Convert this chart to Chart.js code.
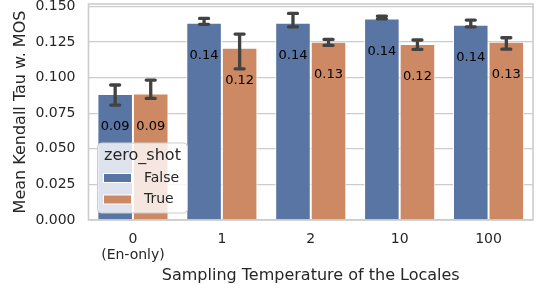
<!DOCTYPE html>
<html lang="en">
<head>
    <meta charset="UTF-8">
    <title>Mean Kendall Tau w. MOS</title>
    <script src="https://cdn.jsdelivr.net/npm/chart.js"></script>
    <style>
        html, body {
            margin: 0;
            padding: 0;
            background: white;
        }
        #wrap {
            width: 537px;
            height: 288px;
        }
    </style>
</head>
<body>
    <div id="wrap"><canvas id="chart"></canvas></div>

    <script>
        // data
        const categories = [['0', '(En-only)'], '1', '2', '10', '100'];
        const seriesNames = ['False', 'True'];
        const falseMeans = [0.0885, 0.1385, 0.1385, 0.1416, 0.1371];
        const trueMeans = [0.0889, 0.1210, 0.1252, 0.1236, 0.1251];
        const falseLow = [0.0807, 0.1374, 0.1357, 0.1413, 0.1357];
        const falseHigh = [0.0948, 0.1416, 0.1451, 0.1432, 0.1404];
        const trueLow = [0.0854, 0.1062, 0.1226, 0.1198, 0.1200];
        const trueHigh = [0.0983, 0.1306, 0.1268, 0.1264, 0.1280];
        const yTicks = [0, 0.025, 0.05, 0.075, 0.1, 0.125, 0.15];

        const FONT = "'DejaVu Sans', sans-serif";
        const TEXT = '#262626';
        const colors = ['#5975a4', '#cc8963'];
        const errLows = [falseLow, trueLow];
        const errHighs = [falseHigh, trueHigh];

        // frame around the plot area
        const framePlugin = {
            id: 'frame',
            afterDraw(chart) {
                const { ctx, chartArea: a } = chart;
                ctx.save();
                ctx.strokeStyle = '#cccccc';
                ctx.lineWidth = 1.6;
                ctx.strokeRect(a.left, a.top, a.right - a.left, a.bottom - a.top);
                ctx.restore();
            }
        };

        // error bars + value labels inside the bars
        const errorPlugin = {
            id: 'errors',
            afterDatasetsDraw(chart) {
                const ctx = chart.ctx;
                const y = chart.scales.y;
                ctx.save();
                chart.data.datasets.forEach((ds, di) => {
                    const meta = chart.getDatasetMeta(di);
                    meta.data.forEach((bar, i) => {
                        // label
                        ctx.fillStyle = '#000';
                        ctx.font = '13px ' + FONT;
                        ctx.textAlign = 'center';
                        ctx.textBaseline = 'middle';
                        ctx.fillText(ds.data[i].toFixed(2), bar.x, bar.y + 33);
                        // error bar
                        const lo = y.getPixelForValue(errLows[di][i]);
                        const hi = y.getPixelForValue(errHighs[di][i]);
                        ctx.strokeStyle = '#424242';
                        ctx.lineWidth = 3.3;
                        ctx.lineCap = 'round';
                        ctx.beginPath();
                        ctx.moveTo(bar.x, lo);
                        ctx.lineTo(bar.x, hi);
                        ctx.moveTo(bar.x - 4.5, lo);
                        ctx.lineTo(bar.x + 4.5, lo);
                        ctx.moveTo(bar.x - 4.5, hi);
                        ctx.lineTo(bar.x + 4.5, hi);
                        ctx.stroke();
                    });
                });
                ctx.restore();
            }
        };

        // legend inside the axes, like seaborn
        const legendPlugin = {
            id: 'innerLegend',
            afterDraw(chart) {
                const { ctx, chartArea: a } = chart;
                const x0 = a.left + 9, y0 = 143, w = 90, h = 70;
                ctx.save();
                ctx.beginPath();
                ctx.roundRect(x0, y0, w, h, 4);
                ctx.fillStyle = 'rgba(255,255,255,0.8)';
                ctx.fill();
                ctx.strokeStyle = '#cccccc';
                ctx.lineWidth = 1;
                ctx.stroke();

                ctx.fillStyle = TEXT;
                ctx.font = '16px ' + FONT;
                ctx.textAlign = 'center';
                ctx.textBaseline = 'middle';
                ctx.fillText('zero_shot', x0 + w / 2, y0 + 12.5);

                ctx.font = '14px ' + FONT;
                ctx.textAlign = 'left';
                seriesNames.forEach((name, i) => {
                    const cy = y0 + 35 + i * 21.5;
                    ctx.fillStyle = colors[i];
                    ctx.fillRect(x0 + 6, cy - 4.5, 28, 9);
                    ctx.strokeStyle = '#ffffff';
                    ctx.strokeRect(x0 + 6, cy - 4.5, 28, 9);
                    ctx.fillStyle = TEXT;
                    ctx.fillText(name, x0 + 46.5, cy);
                });
                ctx.restore();
            }
        };

        new Chart(document.getElementById('chart'), {
            type: 'bar',
            data: {
                labels: categories,
                datasets: [
                    { label: seriesNames[0], data: falseMeans, backgroundColor: colors[0] },
                    { label: seriesNames[1], data: trueMeans, backgroundColor: colors[1] }
                ]
            },
            options: {
                responsive: true,
                maintainAspectRatio: false,
                animation: false,
                devicePixelRatio: 1,
                layout: { padding: { left: 0, top: 4, right: 4, bottom: 0 } },
                datasets: {
                    bar: {
                        categoryPercentage: 0.8,
                        barPercentage: 1.0,
                        borderColor: '#ffffff',
                        borderWidth: 1,
                        borderSkipped: 'start'
                    }
                },
                plugins: {
                    legend: { display: false },
                    tooltip: { enabled: false }
                },
                scales: {
                    x: {
                        grid: { display: false, drawTicks: false },
                        border: { display: false },
                        ticks: {
                            color: TEXT,
                            font: { family: FONT, size: 14 },
                            padding: 10.5,
                            maxRotation: 0
                        },
                        title: {
                            display: true,
                            text: 'Sampling Temperature of the Locales',
                            color: TEXT,
                            font: { family: FONT, size: 16 },
                            padding: { top: 0, bottom: 2.5 }
                        },
                        afterFit(scale) {
                            scale.height = 68;
                            scale.paddingLeft = 0;
                            scale.paddingRight = 0;
                        }
                    },
                    y: {
                        min: 0,
                        max: 0.1517,
                        grid: { color: '#cccccc', lineWidth: 1.2, drawTicks: false },
                        border: { display: false },
                        afterBuildTicks(scale) {
                            scale.ticks = yTicks.map(v => ({ value: v }));
                        },
                        ticks: {
                            color: TEXT,
                            font: { family: FONT, size: 14 },
                            padding: 13,
                            callback: v => Number(v).toFixed(3)
                        },
                        title: {
                            display: true,
                            text: 'Mean Kendall Tau w. MOS',
                            color: TEXT,
                            font: { family: FONT, size: 16 },
                            padding: { top: 11, bottom: 0 }
                        },
                        afterFit(scale) {
                            scale.width = 88.5;
                            scale.paddingTop = 0;
                            scale.paddingBottom = 0;
                        }
                    }
                }
            },
            plugins: [framePlugin, errorPlugin, legendPlugin]
        });
    </script>
</body>
</html>
